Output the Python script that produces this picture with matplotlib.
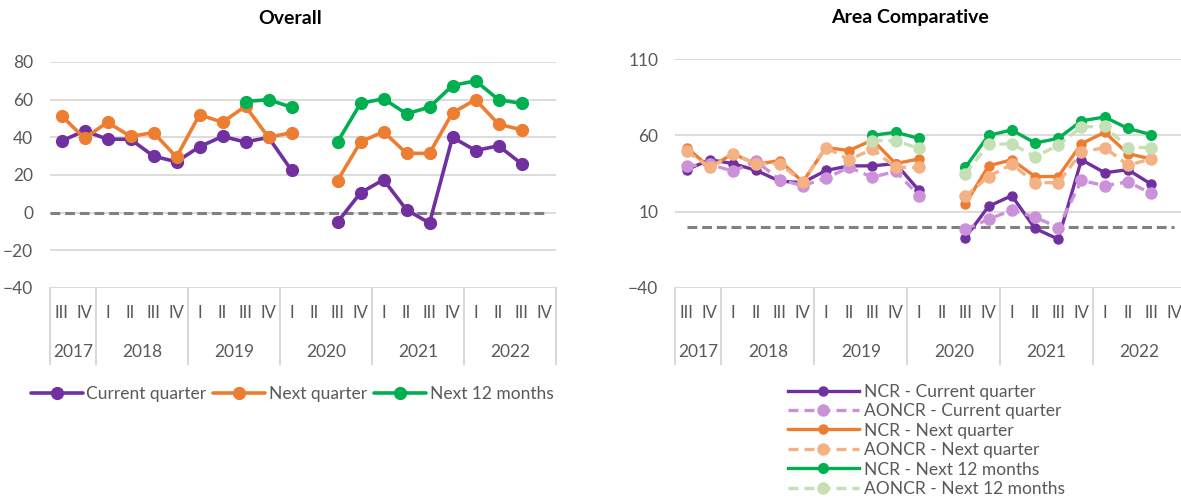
import numpy as np
import matplotlib
matplotlib.use("Agg")
import matplotlib.pyplot as plt
import matplotlib.transforms as mtransforms
from matplotlib.lines import Line2D

plt.rcParams["font.family"] = ["Lato", "DejaVu Sans"]

nan = np.nan

# quarter axis: 2017 III .. 2022 IV
quarters = ["III", "IV"] + ["I", "II", "III", "IV"] * 5
years = ["2017", "2018", "2019", "2020", "2021", "2022"]
year_sizes = [2, 4, 4, 4, 4, 4]

# Overall
current_quarter = [38, 43.5, 39, 39, 30, 27, 35, 40.5, 37.5, 40, 22.5, nan,
                   -5, 10.5, 17.5, 1.5, -5.5, 40, 33, 35.5, 26, nan]
next_quarter = [51.5, 39.5, 48, 40.5, 42.5, 29.5, 52, 48, 56.5, 40, 42.5, nan,
                17, 37.5, 43, 31.5, 31.5, 53, 60, 47, 44, nan]
next_12_months = [nan] * 8 + [59, 60, 56, nan,
                              37.5, 58, 60.5, 52.5, 56, 67.5, 70, 60, 58, nan]

# Area comparative
ncr_current = [37.5, 44, 41.5, 37, 30, 29, 37, 40, 40, 41.5, 24, nan,
               -7, 13.5, 20.5, -1, -8, 44, 35.5, 37.5, 28, nan]
aoncr_current = [40, 41, 36.5, 43, 31, 27, 32, 39, 32.5, 36.5, 20.5, nan,
                 -1.5, 5, 11, 6.5, -0.5, 30.5, 27, 29.5, 22, nan]
ncr_next = [52, 39, 48, 41, 43.5, 29.5, 52, 50, 57, 41.5, 44.5, nan,
            15, 40, 44, 33, 33, 54.5, 62, 48, 44.5, nan]
aoncr_next = [49.5, 39, 47.5, 41.5, 41.5, 29.5, 52, 44, 51, 39, 39, nan,
              20, 33, 41, 29, 29, 49, 52, 40.5, 44.5, nan]
ncr_12m = [nan] * 8 + [60, 62, 58, nan,
                       39, 60, 63.5, 55, 58, 69.5, 72, 64.5, 60.5, nan]
aoncr_12m = [nan] * 8 + [56.5, 56.5, 51.5, nan,
                         35, 54, 54.5, 46, 53.5, 65.5, 66, 52, 52, nan]

PURPLE = "#7030A0"
ORANGE = "#ED7D31"
GREEN = "#00B050"
LIGHT_PURPLE = "#CC92D9"
LIGHT_ORANGE = "#F4B183"
LIGHT_GREEN = "#C5E0B4"
GRID = "#D9D9D9"
TEXT = "#595959"

W, H = 1181, 501
fig = plt.figure(figsize=(W / 100, H / 100), dpi=100)


def px_axes(x0, x1, y0, y1):
    # axes from pixel box (top-left origin)
    return fig.add_axes([x0 / W, 1 - y1 / H, (x1 - x0) / W, (y1 - y0) / H])


def category_axis(ax):
    n = len(quarters)
    ax.set_xlim(-0.5, n - 0.5)
    ax.set_xticks([])
    for s in ax.spines.values():
        s.set_visible(False)
    ax.yaxis.grid(True, color=GRID, lw=1.3)
    ax.set_axisbelow(True)
    ax.tick_params(axis="y", length=0, labelsize=12.5, labelcolor=TEXT, pad=12)

    base = ax.get_xaxis_transform()
    q_tr = mtransforms.offset_copy(base, fig=fig, y=-25, units="dots")
    y_tr = mtransforms.offset_copy(base, fig=fig, y=-64, units="dots")
    for i, q in enumerate(quarters):
        ax.text(i, 0, q, transform=q_tr, ha="center", va="center",
                fontsize=12, color=TEXT)
    edges = np.concatenate([[0], np.cumsum(year_sizes)]) - 0.5
    for yr, a, b in zip(years, edges[:-1], edges[1:]):
        ax.text((a + b) / 2, 0, yr, transform=y_tr, ha="center",
                va="center", fontsize=12.5, color=TEXT)
    div_tr = mtransforms.blended_transform_factory(ax.transData, fig.transFigure)
    for e in edges:
        ax.add_line(Line2D([e, e], [1 - 288 / H, 1 - 364 / H],
                           transform=div_tr, color=GRID, lw=1.5,
                           clip_on=False))


x = np.arange(len(quarters))

# ---- Overall ----
ax1 = px_axes(50, 556, 62, 288)
ax1.set_ylim(-40, 80)
ax1.set_yticks(range(-40, 81, 20))
category_axis(ax1)
ax1.hlines(0, -0.5, 21.1, colors="#808080", linestyles=(0, (3.2, 1.6)), lw=2.2)

left_series = [
    ("Current quarter", current_quarter, PURPLE),
    ("Next quarter", next_quarter, ORANGE),
    ("Next 12 months", next_12_months, GREEN),
]
for label, vals, c in left_series:
    ax1.plot(x, vals, color=c, lw=2.6, marker="o", ms=8.5, label=label,
             solid_capstyle="round")

fig.text(290 / W, 1 - 18 / H, "Overall", ha="center", va="center",
         fontsize=14, fontweight="bold", color="black")

fig.legend(*ax1.get_legend_handles_labels(), loc="center",
           bbox_to_anchor=(292 / W, 1 - 394 / H), ncol=3, frameon=False,
           fontsize=12.5, handlelength=3.0, columnspacing=0.4,
           handletextpad=0.2, labelcolor=TEXT)

# ---- Area comparative ----
ax2 = px_axes(675, 1186, 59, 288)
ax2.set_ylim(-40, 110)
ax2.set_yticks([-40, 10, 60, 110])
category_axis(ax2)
ax2.hlines(0, 0, 21, colors="#808080", linestyles=(0, (3.2, 1.6)), lw=2.2)

right_series = [
    ("NCR - Current quarter", ncr_current, PURPLE, "-", 6.5),
    ("AONCR - Current quarter", aoncr_current, LIGHT_PURPLE, "--", 8),
    ("NCR - Next quarter", ncr_next, ORANGE, "-", 6.5),
    ("AONCR - Next quarter", aoncr_next, LIGHT_ORANGE, "--", 8),
    ("NCR - Next 12 months", ncr_12m, GREEN, "-", 7),
    ("AONCR - Next 12 months", aoncr_12m, LIGHT_GREEN, "--", 8),
]
for label, vals, c, ls, ms in right_series:
    ax2.plot(x, vals, color=c, lw=2.4, ls=ls, marker="o", ms=ms, label=label,
             dashes=(3, 1.8) if ls == "--" else (None, None))

fig.text(910 / W, 1 - 18 / H, "Area Comparative", ha="center", va="center",
         fontsize=14, fontweight="bold", color="black")

fig.legend(*ax2.get_legend_handles_labels(), loc="upper left",
           bbox_to_anchor=(772 / W, 1 - 368 / H), ncol=1, frameon=False,
           fontsize=12.5, handlelength=4.1, labelspacing=0.2,
           handletextpad=0.3, labelcolor=TEXT)

fig.savefig("out.png", dpi=100)
